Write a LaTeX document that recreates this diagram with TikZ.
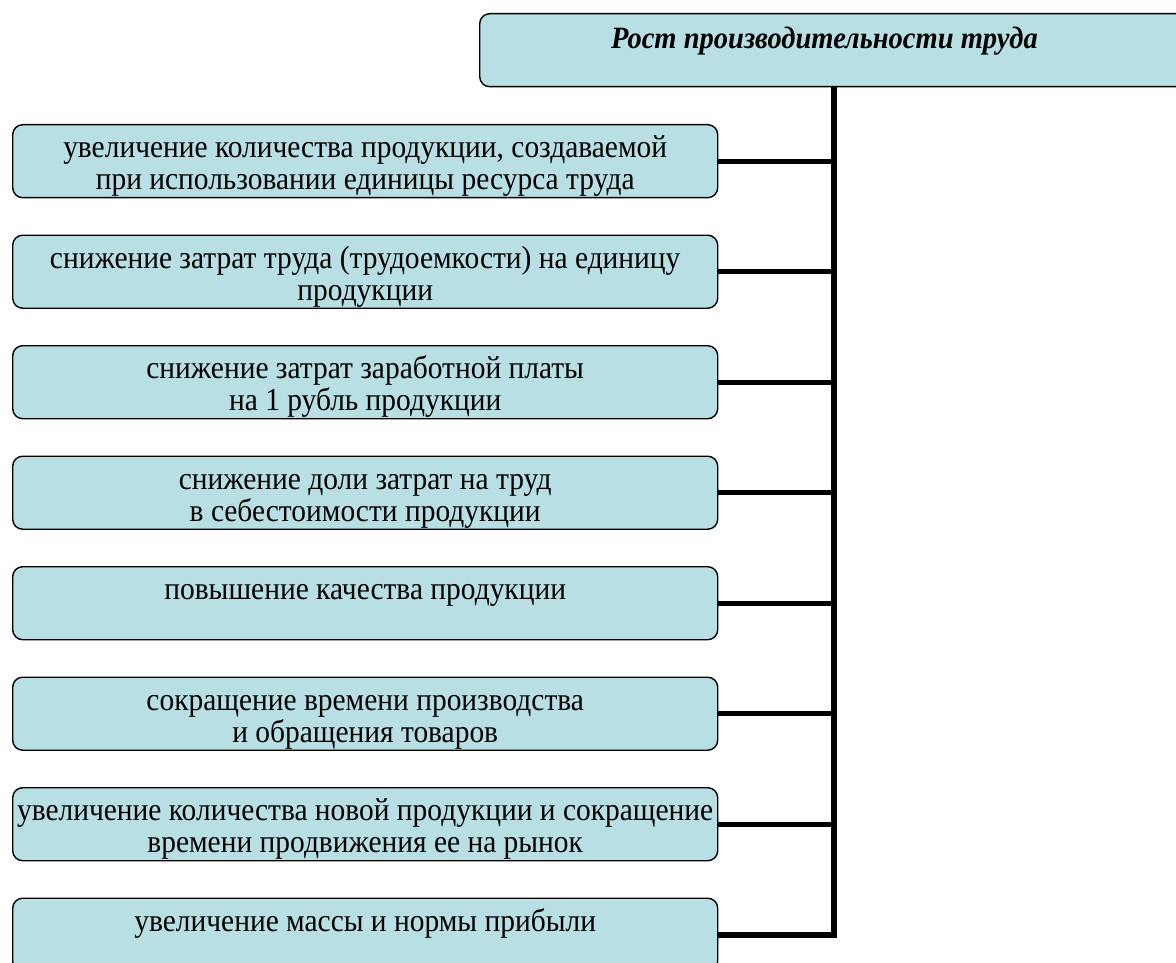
\documentclass[tikz,border=0pt]{standalone}
\usepackage{fontspec}
\setmainfont[FakeStretch=0.92]{Liberation Serif}
\definecolor{boxfill}{RGB}{184,223,228}
\newcommand{\topstrut}{\rule{0pt}{26pt}}
\begin{document}
\begin{tikzpicture}[x=1pt,y=-1pt,
  item/.style={draw=black, line width=1.4pt, fill=boxfill, rounded corners=10pt,
    minimum width=705pt, minimum height=73pt, inner sep=0pt, anchor=north west},
  caption/.style={font=\fontsize{32}{32}\selectfont, align=center, anchor=north, inner sep=0pt},
  link/.style={line width=5pt, line cap=butt}]
\useasboundingbox (0,0) rectangle (1176,963);
\clip (0,0) rectangle (1176,963);

% head box (runs past the right edge)
\node[item, minimum width=708pt] (top) at (479,13) {};
\node[font=\fontsize{31}{31}\selectfont\bfseries\itshape, anchor=base, inner sep=0pt] (ttl)
  at (824.5,49) {Рост производительности труда};

% left column of effects
\foreach \i/\t/\txt in {
  1/124/{увеличение количества продукции, создаваемой\\при использовании единицы ресурса труда},
  2/234.5/{снижение затрат труда (трудоемкости) на единицу\\продукции},
  3/345/{снижение затрат заработной платы\\на 1 рубль продукции},
  4/455.5/{снижение доли затрат на труд\\в себестоимости продукции},
  5/566/{повышение качества продукции},
  6/676.5/{сокращение времени производства\\и обращения товаров},
  7/787/{увеличение количества новой продукции и сокращение\\времени продвижения ее на рынок},
  8/897.5/{увеличение массы и нормы прибыли}}{
  \node[item] (b\i) at (12,\t) {};
  \node[caption] (t\i) at ([yshift=-7.5pt]b\i.north) {\topstrut\txt};
}

% connectors to the vertical bus
\foreach \i in {1,...,7}{
  \draw[link] (b\i.east) -- (b\i.east -| top.south);
}
\draw[link, line width=6pt, line join=miter] (top.south) -- (b8.east -| top.south) -- (b8.east);
\end{tikzpicture}
\end{document}
